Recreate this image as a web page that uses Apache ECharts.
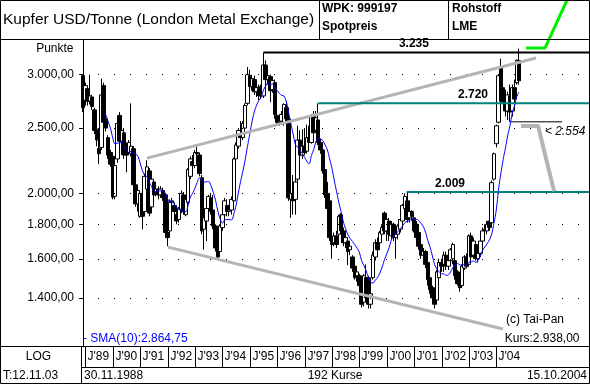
<!DOCTYPE html>
<html><head><meta charset="utf-8">
<script src="https://cdn.jsdelivr.net/npm/echarts@6/dist/echarts.min.js"></script>
<style>html,body{margin:0;padding:0;background:#fff}#c{width:590px;height:384px}</style>
</head><body><div id="c"></div>
<script>
// ---- monthly copper candles, Nov 1988 .. Oct 2004 (192 Kurse) ----
const opens = [2990,2750,2860,2740,2780,2660,2490,2330,2340,2890,2580,2420,2300,2270,1980,2250,2610,2390,2460,2360,
2300,2290,2330,2060,1930,1850,2000,1880,2030,2160,1910,2080,2010,2030,1990,2020,1990,1750,1760,1940,
1920,1860,1830,1890,1990,1860,1940,2120,2230,2200,2300,2280,2110,1770,1820,1900,1970,1890,1790,1670,
1640,1780,1860,1920,1880,1890,1950,2250,2350,2450,2420,2500,2720,2990,2880,2950,2830,2860,2880,2790,
3100,2950,2980,2850,2920,2610,2550,2560,2540,2680,2580,1960,2000,1960,2100,2400,2280,2350,2310,2420,
2380,2600,2480,2570,2380,2320,2170,2000,1950,1720,1690,1730,1740,1860,1760,1690,1700,1650,1610,1560,
1510,1510,1460,1380,1500,1500,1370,1500,1610,1690,1690,1740,1870,1760,1820,1730,1800,1720,1740,1770,
1820,1900,1950,1840,1880,1840,1800,1750,1680,1620,1640,1580,1500,1450,1420,1390,1500,1580,1570,1620,
1560,1590,1600,1590,1530,1490,1460,1550,1610,1570,1730,1620,1680,1600,1630,1700,1770,1760,1820,1810,
2100,2370,2550,3080,2870,2740,2650,2790,2650,2870,2920,3150];
const closes = [2680,2890,2740,2790,2690,2480,2400,2290,2800,2550,2500,2280,2210,1975,2200,2540,2390,2480,2280,2280,
2380,2350,2060,1930,2020,2000,1850,2120,2190,1870,2100,1990,2030,1990,2030,1970,1750,1720,1940,1950,
1880,1820,1900,2000,1880,1960,2170,2250,2200,2300,2290,2140,1760,1840,1900,1980,1880,1790,1660,1610,
1790,1860,1950,1880,1890,1960,2250,2360,2480,2420,2540,2700,3000,2880,2960,2830,2870,2790,2790,3100,
2950,2990,2840,2940,2620,2550,2560,2620,2710,2580,1970,2000,1950,2080,2400,2280,2350,2300,2420,2380,
2600,2460,2590,2380,2320,2160,1990,1900,1720,1680,1730,1680,1850,1760,1690,1720,1640,1670,1550,1500,
1530,1460,1370,1510,1400,1370,1420,1620,1690,1650,1750,1780,1760,1830,1740,1800,1720,1740,1790,1830,
1920,1980,1830,1880,1850,1760,1720,1670,1620,1640,1570,1490,1440,1400,1370,1530,1580,1560,1620,1560,
1590,1650,1680,1510,1470,1450,1560,1610,1560,1730,1610,1700,1600,1630,1700,1760,1760,1800,1780,2075,
2290,2520,2990,2740,2740,2650,2800,2640,2870,2760,3150,2938];
const lows = [2640,2700,2700,2710,2660,2450,2350,2210,2320,2520,2470,2250,2190,1960,1960,2220,2370,2280,2250,2150,
2280,2270,2040,1910,1880,1840,1770,1870,2010,1850,1890,1970,1980,1960,1970,1950,1720,1670,1740,1880,
1860,1800,1810,1870,1860,1850,1920,2100,2150,2180,2260,2120,1740,1650,1700,1880,1860,1770,1640,1600,
1610,1760,1840,1850,1850,1860,1930,2230,2330,2400,2400,2480,2700,2850,2840,2800,2780,2750,2760,2770,
2900,2900,2730,2820,2580,2520,2520,2540,2520,2560,1950,1840,1860,1860,2080,2260,2250,2280,2290,2340,
2370,2440,2460,2360,2290,2140,1970,1880,1700,1600,1670,1660,1720,1740,1670,1660,1566,1620,1530,1490,
1480,1440,1355,1360,1380,1350,1350,1490,1590,1630,1680,1720,1740,1700,1700,1710,1700,1600,1710,1750,
1810,1880,1810,1810,1820,1750,1700,1650,1600,1590,1550,1460,1420,1390,1350,1370,1480,1530,1530,1540,
1540,1580,1570,1490,1460,1430,1450,1540,1550,1560,1600,1600,1590,1580,1610,1680,1740,1740,1760,1800,
2090,2340,2540,2720,2720,2600,2570,2554,2600,2720,2900,2900];
const highs = [3000,2920,2880,3000,2800,2680,2520,2400,2960,2920,2620,2440,2320,2290,2220,2560,2640,2500,2500,2380,
2400,2720,2350,2080,2040,2010,2020,2140,2240,2180,2110,2100,2060,2050,2050,2040,2000,1770,1960,1970,
1940,1880,1910,2020,2010,1970,2180,2270,2280,2320,2350,2300,2130,1860,1920,1990,2000,1990,1800,1690,
1800,1880,1970,1960,1920,1980,2260,2380,2500,2560,2560,2720,3080,3050,3000,2990,2900,2900,2900,3235,
3150,3050,3000,2960,2950,2640,2600,2650,2720,2740,2600,2120,2130,2140,2520,2480,2490,2500,2530,2520,
2620,2650,2650,2720,2410,2340,2190,2080,1980,1840,1750,1760,1860,1870,1780,1740,1720,1680,1620,1580,
1560,1520,1470,1520,1570,1510,1440,1640,1710,1720,1760,1800,1880,1860,1840,1820,1810,1760,1800,1840,
1930,2000,2009,1900,1890,1860,1820,1770,1690,1660,1650,1590,1510,1460,1430,1540,1600,1600,1640,1640,
1610,1660,1690,1610,1540,1500,1570,1620,1630,1740,1750,1720,1700,1650,1720,1780,1800,1820,1830,2090,
2300,2530,3000,3170,2900,2850,2830,2900,2900,2950,3160,3280];

const yTicks = [3000, 2500, 2000, 1800, 1600, 1400];
const yearLabels = ["J'89","J'90","J'91","J'92","J'93","J'94","J'95","J'96","J'97","J'98","J'99","J'00","J'01","J'02","J'03","J'04"];
const smaPeriod = 10;

// annotations: [candle index, price]
const level3235 = [[79, 3235], [222, 3235]];
const level2720 = [[103, 2720], [222, 2720]];
const level2009 = [[141.7, 2009], [222, 2009]];
const level2554 = [[187.4, 2554], [209.8, 2554]];
const trendUpper = [[28.0, 2256], [198.4, 3175]];
const trendLower = [[37.2, 1665], [183.9, 1259]];
const grayArrow = [[191.8, 2518], [199.3, 2518], [206.3, 2015]];
const greenArrow = [[194, 3285], [202.3, 3285], [212, 3871]];
const levelLabels = [[144.9, 3235], [170.8, 2720], [160.7, 2009]];

const X_MIN = -0.48, X_MAX = 221.6;
const Y_MIN = 1188, Y_MAX = 3377;
const FONT = 'Liberation Sans, Arial, sans-serif';

const fmtDE = v => String(Math.round(v)).replace(/\B(?=(\d{3})+(?!\d))/g, '.');

const candleData = closes.map((c, i) => [i, opens[i], c, lows[i], highs[i]]);
const smaData = [];
for (let i = smaPeriod - 1; i < closes.length; i++) {
  let s = 0;
  for (let k = i - smaPeriod + 1; k <= i; k++) s += closes[k];
  smaData.push([i, s / smaPeriod]);
}

function lineSeries(data, color, width, extra) {
  return Object.assign({
    type: 'line', data: data, symbol: 'none', silent: true,
    lineStyle: { color: color, width: width }, z: 5
  }, extra || {});
}

const chart = echarts.init(document.getElementById('c'), null, { renderer: 'canvas', width: 590, height: 384 });
chart.setOption({
  animation: false,
  backgroundColor: '#fff',
  grid: { left: 82, top: 40, width: 507, height: 306, containLabel: false },
  xAxis: { type: 'value', min: X_MIN, max: X_MAX, show: false },
  yAxis: {
    type: 'log', logBase: 10, min: Y_MIN, max: Y_MAX,
    axisLine: { show: true, lineStyle: { color: '#000', width: 1 } },
    axisTick: { show: true, customValues: yTicks, length: 4, lineStyle: { color: '#000' } },
    axisLabel: { show: true, customValues: yTicks, formatter: v => fmtDE(v) + ',00',
      color: '#000', fontFamily: FONT, fontSize: 12, margin: 8 },
    splitLine: { show: false }
  },
  series: [
    {
      type: 'line', data: [], silent: true,
      markLine: { silent: true, symbol: ['none', 'none'], label: { show: false },
        lineStyle: { color: '#000', width: 1, type: [1, 15], opacity: 1 },
        data: yTicks.map(v => ({ yAxis: v })) }
    },
    {
      type: 'candlestick', data: candleData, encode: { x: 0, y: [1, 2, 3, 4] },
      barWidth: 4, silent: true,
      itemStyle: { color: '#fff', color0: '#000', borderColor: '#000', borderColor0: '#000', borderWidth: 1 },
      z: 3
    },
    lineSeries(smaData, '#0000ff', 1, { smooth: 0.4 }),
    lineSeries(trendUpper, '#b4b4b4', 3),
    lineSeries(trendLower, '#b4b4b4', 3),
    lineSeries(level3235, '#000', 2),
    lineSeries(level2720, '#008080', 2),
    lineSeries(level2009, '#008080', 2),
    lineSeries(level2554, '#000', 1),
    lineSeries(grayArrow, '#b4b4b4', 4),
    lineSeries(greenArrow, '#00ee00', 3, { clip: false })
  ]
});

const px = (i, v) => chart.convertToPixel({ xAxisIndex: 0, yAxisIndex: 0 }, [i, v]);
const g = [];
function txt(x, y, s, opt) {
  g.push({ type: 'text', x: x, y: y, silent: true, z: 100,
    style: Object.assign({ text: s, fill: '#000', font: '12px ' + FONT, textAlign: 'left', textVerticalAlign: 'middle' }, opt || {}) });
}
function ln(x1, y1, x2, y2, w) {
  g.push({ type: 'line', silent: true, z: 90, shape: { x1: x1, y1: y1, x2: x2, y2: y2 },
    style: { stroke: '#000', lineWidth: w || 1 } });
}
// frame and header
g.push({ type: 'rect', silent: true, z: 90, shape: { x: 0.5, y: 0.5, width: 589, height: 383 }, style: { fill: null, stroke: '#000', lineWidth: 1 } });
ln(0, 39.5, 590, 39.5);
ln(319.5, 0, 319.5, 40);
ln(448.5, 0, 448.5, 40);
txt(3, 20, 'Kupfer USD/Tonne (London Metal Exchange)', { font: '15.5px ' + FONT });
txt(322, 9, 'WPK: 999197', { font: 'bold 12px ' + FONT });
txt(322, 27, 'Spotpreis', { font: 'bold 12px ' + FONT });
txt(452, 9, 'Rohstoff', { font: 'bold 12px ' + FONT });
txt(452, 27, 'LME', { font: 'bold 12px ' + FONT });
txt(73.5, 49, 'Punkte', { textAlign: 'right' });
// footer
ln(0, 346.5, 590, 346.5);
ln(81.5, 367.5, 590, 367.5);
ln(81.5, 346, 81.5, 384);
yearLabels.forEach((lab, k) => {
  const x = Math.round(chart.convertToPixel({ xAxisIndex: 0 }, 12 * k + 1)) + 0.5;
  ln(x, 346, x, 367.5);
  txt(x + 2, 357, lab);
});
txt(38.5, 357, 'LOG', { textAlign: 'center' });
txt(3, 376, 'T:12.11.03');
txt(84, 376, '30.11.1988');
txt(335, 376, '192 Kurse', { textAlign: 'center' });
txt(587, 376, '15.10.2004', { textAlign: 'right' });
txt(83, 339, '- SMA(10):' + fmtDE(2864) + ',75', { fill: '#0000ff' });
txt(506, 320, '(c) Tai-Pan');
txt(579.5, 339, 'Kurs:' + fmtDE(closes[closes.length - 1]) + ',00', { textAlign: 'right' });
// level labels
levelLabels.forEach(([i, v]) => {
  const p = px(i, v);
  txt(p[0], p[1] - 8.6, fmtDE(v), { font: 'bold 12px ' + FONT, textAlign: 'center' });
});
const p2554 = px(level2554[1][0] - 7.5, level2554[0][1]);
txt(p2554[0], p2554[1] + 9.4, '< ' + fmtDE(level2554[0][1]), { font: 'italic 12px ' + FONT });
chart.setOption({ graphic: g });
</script>
</body></html>
